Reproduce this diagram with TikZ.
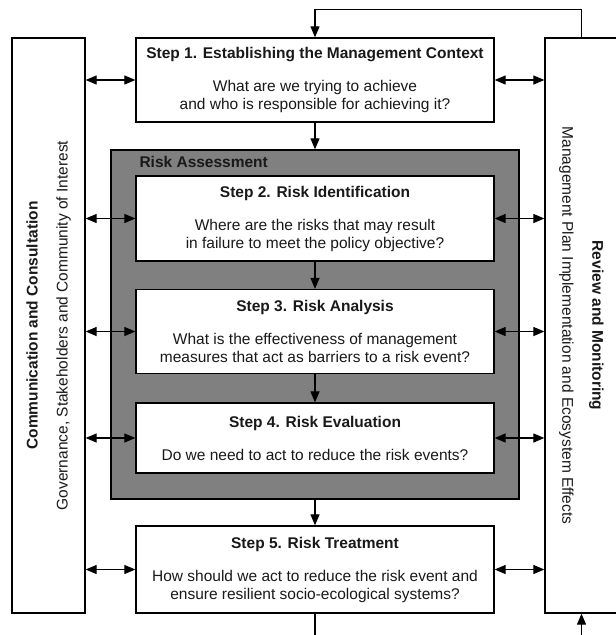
\documentclass[tikz,border=0pt]{standalone}
\usepackage{fontspec}
\setmainfont{Liberation Sans}
\usetikzlibrary{arrows.meta}

\begin{document}
\begin{tikzpicture}[x=1pt, y=-1pt,
    every node/.style={font=\fontsize{15.5}{18}\selectfont, align=center, text=black!90},
    stepbox/.style={draw, line width=1.3pt, fill=white, minimum width=358pt, inner sep=0pt},
    sidebox/.style={draw, line width=1.3pt, minimum width=73pt, minimum height=575pt},
    flow/.style={line width=1.2pt, -{Triangle[length=11pt,width=9pt]}},
    link/.style={line width=1.2pt, {Triangle[length=11pt,width=9pt]}-{Triangle[length=11pt,width=9pt]}}]
    \useasboundingbox (0,0) rectangle (616,635);
    \clip (0,0) rectangle (616,635);

    % side columns
    \node[sidebox] (comm) at (48.5,325.5) {};
    \node[sidebox] (review) at (581.5,325.5) {};
    \node[rotate=90] (commtext) at (comm) {\textbf{Communication and Consultation}\\[12pt]Governance, Stakeholders and Community of Interest};
    \node[rotate=-90] (reviewtext) at (review) {\textbf{Review and Monitoring}\\[12pt]Management Plan Implementation and Ecosystem Effects};

    % risk assessment block
    \node[draw, line width=1.3pt, fill=gray, minimum width=408pt, minimum height=349pt] (assess) at (315,324.5) {};
    \node[anchor=base west] (assesslbl) at (136,167) {\textbf{Risk Assessment}};

    % steps
    \node[stepbox, minimum height=84pt] (s1) at (315,80)
        {\textbf{Step 1. Establishing the Management Context}\\[15pt]What are we trying to achieve\\and who is responsible for achieving it?};
    \node[stepbox, minimum height=85pt] (s2) at (315,218.5)
        {\textbf{Step 2. Risk Identification}\\[15pt]Where are the risks that may result\\in failure to meet the policy objective?};
    \node[stepbox, minimum height=84pt] (s3) at (315,331.5)
        {\textbf{Step 3. Risk Analysis}\\[15pt]What is the effectiveness of management\\measures that act as barriers to a risk event?};
    \node[stepbox, minimum height=70pt] (s4) at (315,438)
        {\textbf{Step 4. Risk Evaluation}\\[15pt]Do we need to act to reduce the risk events?};
    \node[stepbox, minimum height=87pt] (s5) at (315,569.5)
        {\textbf{Step 5. Risk Treatment}\\[15pt]How should we act to reduce the risk event and\\ensure resilient socio-ecological systems?};

    % flow
    \draw[flow] (review.north) -- ++(0,-28) -| (s1.north);
    \draw[flow] (s1.south) -- (assess.north);
    \draw[flow] (s2.south) -- (s3.north);
    \draw[flow] (s3.south) -- (s4.north);
    \draw[flow] (assess.south) -- (s5.north);
    \draw[flow] (s5.south) -- ++(0,40) -| (review.south);

    % links to the side columns
    \foreach \s in {s1,s2,s3,s4,s5} {
        \draw[link] (comm.east |- \s.west) -- (\s.west);
        \draw[link] (\s.east) -- (review.west |- \s.east);
    }
\end{tikzpicture}
\end{document}
